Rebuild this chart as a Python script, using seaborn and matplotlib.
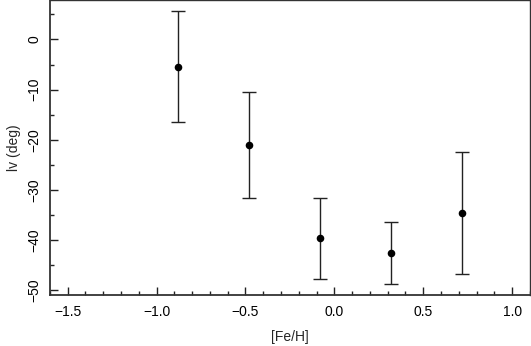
import matplotlib
matplotlib.use("Agg")
import matplotlib.pyplot as plt
from matplotlib.ticker import MultipleLocator
import seaborn as sns

# values
feh = [-0.88, -0.48, -0.08, 0.32, 0.72]
lv = [-5.4, -21.0, -39.6, -42.6, -34.6]
lv_upper = [5.6, -10.4, -31.6, -36.4, -22.5]
lv_lower = [-16.5, -31.7, -47.7, -48.8, -46.7]

err_low = [m - lo for m, lo in zip(lv, lv_lower)]
err_high = [hi - m for m, hi in zip(lv, lv_upper)]

sns.set_theme("paper")
sns.set_style("ticks")
plt.rcParams['font.family'] = ['Liberation Sans', 'DejaVu Sans']

fig = plt.figure(figsize=(5.31, 3.46), dpi=100)
ax = fig.add_axes([0.094, 0.147, 0.904, 0.852])

ax.errorbar(feh, lv, yerr=[err_low, err_high], fmt='none',
            ecolor='#222222', elinewidth=1.0, capsize=5, capthick=1.0)
sns.scatterplot(x=feh, y=lv, ax=ax, color='black', s=30, edgecolor='black',
                linewidth=0, zorder=3)

ax.set_xlim(-1.6, 1.1)
ax.set_ylim(-51, 7.8)
ax.xaxis.set_major_locator(MultipleLocator(0.5))
ax.xaxis.set_minor_locator(MultipleLocator(0.1))
ax.yaxis.set_major_locator(MultipleLocator(10))
ax.yaxis.set_minor_locator(MultipleLocator(5))
ax.tick_params(which='both', direction='in', top=False, right=False,
               colors='#222222', labelcolor='black', labelsize=10)
ax.tick_params(which='major', length=6, width=1)
ax.tick_params(which='minor', length=3, width=1)
ax.tick_params(axis='x', which='major', pad=7)
ax.tick_params(axis='y', which='major', pad=6)
for lab in ax.get_yticklabels():
    lab.set_rotation(90)
    lab.set_va('center')

for side, sp in ax.spines.items():
    sp.set_color('#333333')
    sp.set_linewidth(1.3 if side in ('left', 'bottom') else 1.0)

ax.set_xlabel('[Fe/H]', fontsize=10, labelpad=8)
ax.set_ylabel('lv (deg)', fontsize=10, labelpad=5)

fig.savefig('out.png', dpi=100)
